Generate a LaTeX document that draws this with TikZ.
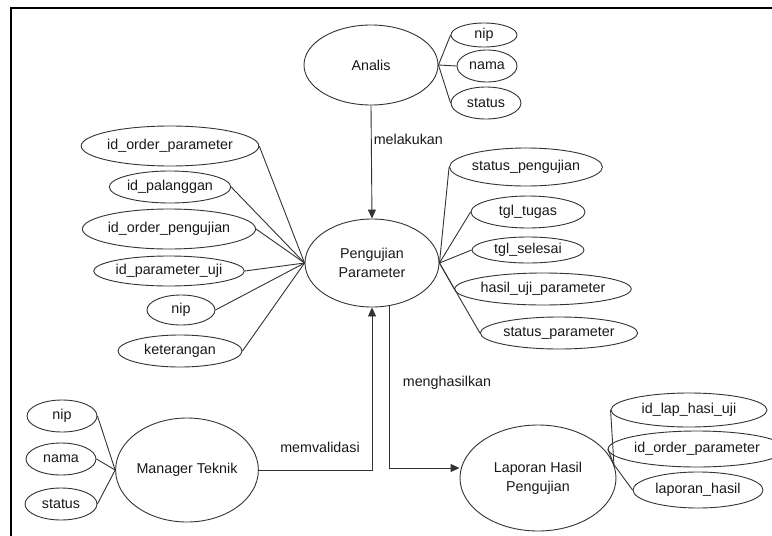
\documentclass[tikz,border=0pt]{standalone}
\usepackage{fontspec}
\setmainfont{Liberation Sans}
\usetikzlibrary{shapes.geometric,arrows.meta,calc}

\begin{document}
\begin{tikzpicture}[x=1pt,y=-1pt,
  txt/.style={font=\fontsize{14.3}{19}\selectfont, text=black!90},
  oval/.style={ellipse, draw=black!80, line width=0.9pt, inner sep=0pt, txt, align=center},
  link/.style={draw=black!80, line width=0.9pt},
  rel/.style={link, -{Triangle[length=9pt,width=8pt]}}
]
\useasboundingbox (0,0) rectangle (772,536);
\fill[white] (0,0) rectangle (772,536);

% frame
\begin{scope}
  \clip (0,0) rectangle (772,536);
  \draw[line width=1.6pt] (11,8) rectangle (800,560);
\end{scope}

% entities
\node[oval, minimum width=134pt, minimum height=80pt]  (analis)  at (371,65)  {Analis};
\node[oval, minimum width=134pt, minimum height=88pt]  (uji)     at (372,263) {Pengujian\\Parameter};
\node[oval, minimum width=136pt, minimum height=104pt] (manager) at (187,470) {Manager Teknik};
\node[oval, minimum width=156pt, minimum height=106pt] (lap)     at (538,478) {Laporan Hasil\\Pengujian};

% attributes of Analis
\node[oval, minimum width=66pt, minimum height=24pt] (anip)    at (484,35)  {nip};
\node[oval, minimum width=60pt, minimum height=32pt] (anama)   at (487,66)  {nama};
\node[oval, minimum width=70pt, minimum height=32pt] (astatus) at (486,103) {status};

% attributes of Pengujian Parameter (left)
\node[oval, minimum width=140pt, minimum height=40pt] (iop)  at (170,146) {id\_order\_parameter};
\node[oval, minimum width=104pt, minimum height=32pt] (ipl)  at (170,187) {id\_palanggan};
\node[oval, minimum width=140pt, minimum height=40pt] (iopg) at (169,229) {id\_order\_pengujian};
\node[oval, minimum width=128pt, minimum height=30pt] (ipu)  at (169,271) {id\_parameter\_uji};
\node[oval, minimum width=68pt,  minimum height=30pt] (unip) at (181,310) {nip};
\node[oval, minimum width=124pt, minimum height=32pt] (ket)  at (180,351) {keterangan};

% attributes of Pengujian Parameter (right)
\node[oval, minimum width=140pt, minimum height=38pt] (spj) at (526,167) {status\_pengujian};
\node[oval, minimum width=114pt, minimum height=32pt] (ttg) at (528,212) {tgl\_tugas};
\node[oval, minimum width=112pt, minimum height=26pt] (tsl) at (528,250) {tgl\_selesai};
\node[oval, minimum width=140pt, minimum height=32pt] (hup) at (543,289) {hasil\_uji\_parameter};
\node[oval, minimum width=142pt, minimum height=32pt] (spr) at (559,333) {status\_parameter};

% attributes of Manager Teknik
\node[oval, minimum width=70pt, minimum height=32pt] (mnip)    at (62,416) {nip};
\node[oval, minimum width=70pt, minimum height=32pt] (mnama)   at (61,459) {nama};
\node[oval, minimum width=72pt, minimum height=32pt] (mstatus) at (61,504) {status};

% attributes of Laporan Hasil Pengujian
\node[oval, minimum width=156pt, minimum height=34pt] (lid)  at (689,410) {id\_lap\_hasi\_uji};
\node[oval, minimum width=152pt, minimum height=36pt] (liop) at (697,449) {id\_order\_parameter};
\node[oval, minimum width=130pt, minimum height=36pt] (llap) at (698,490) {laporan\_hasil};

% attribute links
\foreach \a in {anip,anama,astatus} \draw[link] (analis.east) -- (\a.west);
\foreach \a in {iop,ipl,iopg,ipu,unip,ket} \draw[link] (uji.west) -- (\a.east);
\foreach \a in {spj,ttg,tsl,hup,spr} \draw[link] (uji.east) -- (\a.west);
\foreach \a in {mnip,mnama,mstatus} \draw[link] (manager.west) -- (\a.east);
\foreach \a in {lid,liop,llap} \draw[link] (lap.10) -- (\a.west);

% relationships
\draw[rel] (analis.south) -- node[txt, right, pos=0.3, inner sep=2pt] {melakukan} (uji.north);
\coordinate (mv) at (uji.south |- manager.east);
\draw[rel] (manager.east) -- (mv) -- (uji.south);
\node[txt] (lmv) at (320,447) {memvalidasi};
\coordinate (mhA) at (uji.-68);
\coordinate (mhB) at ($(lap.west)+(0,-10)$);
\draw[rel] (mhA) |- (mhB);
\node[txt] (lmh) at (447,383) {menghasilkan};
\end{tikzpicture}
\end{document}
